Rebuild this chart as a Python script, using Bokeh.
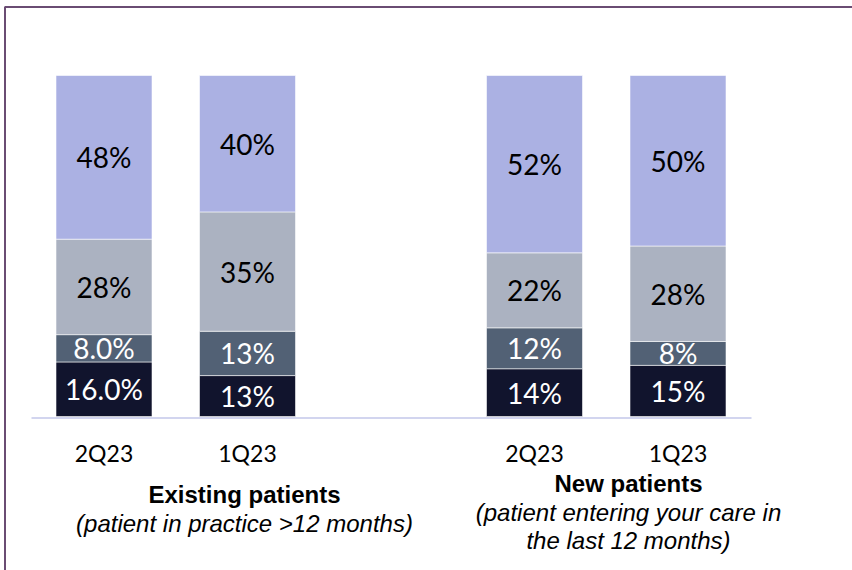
from bokeh.plotting import figure
from bokeh.models import ColumnDataSource, Range1d
from bokeh.core.properties import value
from bokeh.embed import file_html
from bokeh.resources import INLINE

# ---------------- data ----------------
quarters = ["2Q23", "1Q23", "2Q23", "1Q23"]
group_of_bar = [0, 0, 1, 1]
seg_bottom = [16, 12, 14, 15]    # darkest segment
seg_second = [8, 13, 12, 7]
seg_third = [28, 35, 22, 28]
seg_top = [48, 40, 52, 50]
lab_bottom = ["16.0%", "13%", "14%", "15%"]
lab_second = ["8.0%", "13%", "12%", "8%"]
lab_third = ["28%", "35%", "22%", "28%"]
lab_top = ["48%", "40%", "52%", "50%"]
group_titles = ["Existing patients", "New patients"]
group_subtitles = [["(patient in practice >12 months)"],
                   ["(patient entering your care in", "the last 12 months)"]]

# ---------------- layout helpers ----------------
W, H = 852, 570
X0_PX, SLOT_PX = 103.5, 143.5  # centre of first bar, px per slot
Y0_PX, PCT_PX = 416, 3.41      # baseline, px per percent


def dx(px):
    return (px - X0_PX) / SLOT_PX


def dy(py):
    return (Y0_PX - py) / PCT_PX


xs = [i + g for i, g in enumerate(group_of_bar)]  # one empty slot between groups

colors = ["#11142d", "#526175", "#abb2c1", "#abb1e3"]
keys = ["s1", "s2", "s3", "s4"]
src = ColumnDataSource(dict(x=xs, s1=seg_bottom, s2=seg_second, s3=seg_third, s4=seg_top))

p = figure(width=W, height=H, output_backend="svg", toolbar_location=None,
           x_range=Range1d(dx(0), dx(W)), y_range=Range1d(dy(H), dy(0)),
           min_border=0, min_border_left=0, min_border_right=0,
           min_border_top=0, min_border_bottom=0)
p.xaxis.visible = False
p.yaxis.visible = False
p.grid.visible = False
p.outline_line_color = None
p.background_fill_color = "white"
p.border_fill_color = "white"

# frame border (top & left)
p.line([dx(4.5), dx(4.5), dx(W + 5)], [dy(H + 5), dy(6.5), dy(6.5)],
       line_color="#6a4c73", line_width=2)

# baseline
p.segment(x0=[dx(31)], x1=[dx(751)], y0=[dy(417.5)], y1=[dy(417.5)],
          line_color="#d2d5ef", line_width=2)

p.vbar_stack(keys, x="x", width=96 / SLOT_PX, source=src, color=colors,
             line_color="white", line_width=0.8, line_alpha=0.7)

# segment labels
lx, ly, lt, lc = [], [], [], []
for i, x in enumerate(xs):
    vals = [seg_bottom[i], seg_second[i], seg_third[i], seg_top[i]]
    labs = [lab_bottom[i], lab_second[i], lab_third[i], lab_top[i]]
    cum = 0
    for k, (v, t) in enumerate(zip(vals, labs)):
        lx.append(x)
        ly.append(cum + v / 2)
        lt.append(t)
        lc.append("white" if k < 2 else "black")
        cum += v
p.text(x=lx, y=ly, text=lt, text_color=lc, text_align="center",
       text_baseline="middle", text_font=value("Lato"), text_font_size="28px")

# quarter labels
p.text(x=xs, y=[dy(452)] * len(xs), text=quarters, text_color="black",
       text_align="center", text_baseline="middle",
       text_font=value("Lato"), text_font_size="23px")

# group titles
title_px = [244, 628]
title_py = [494, 483]
p.text(x=[dx(v) for v in title_px], y=[dy(v) for v in title_py], text=group_titles,
       text_align="center", text_baseline="middle", text_color="black",
       text_font=value("Liberation Sans"), text_font_style="bold",
       text_font_size="24px")
sx, sy, st = [], [], []
for g, lines in enumerate(group_subtitles):
    for j, line in enumerate(lines):
        sx.append(dx(title_px[g]))
        sy.append(dy(title_py[g] + 29 + 28 * j))
        st.append(line)
p.text(x=sx, y=sy, text=st, text_align="center", text_baseline="middle",
       text_color="black", text_font=value("Liberation Sans"),
       text_font_style="italic", text_font_size="24px")

open("out.html", "w").write(file_html(p, INLINE))
